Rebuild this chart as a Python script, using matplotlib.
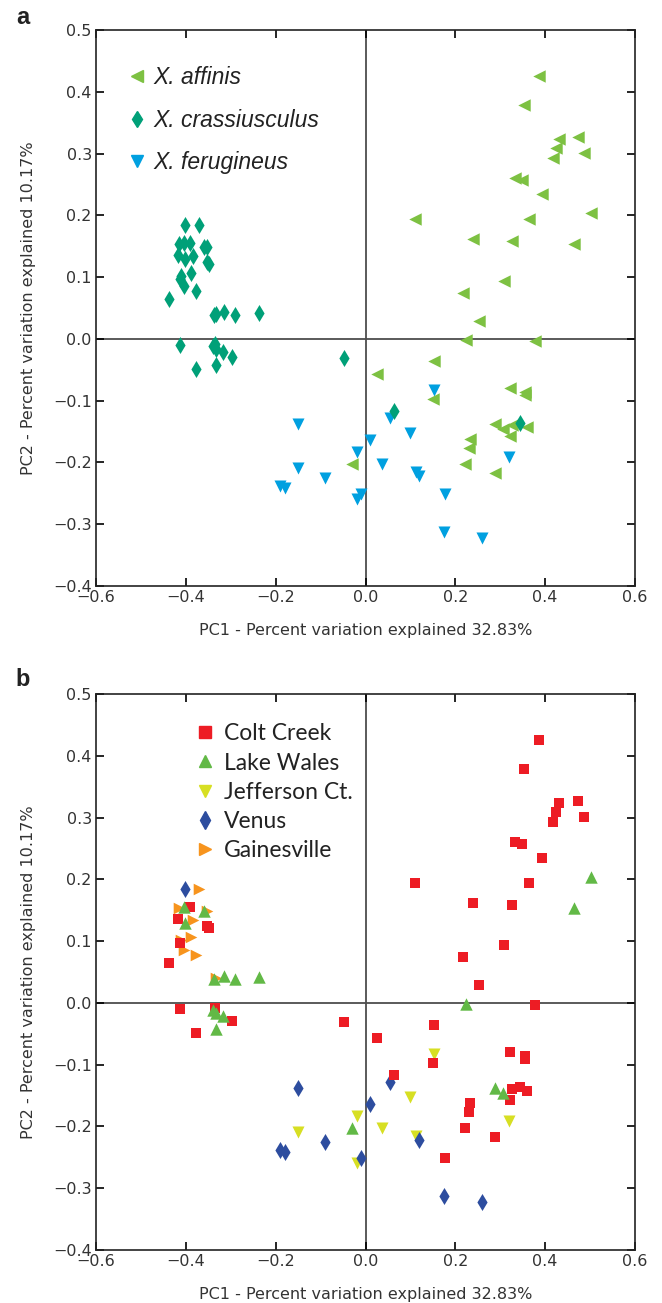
import matplotlib
matplotlib.use("Agg")
import matplotlib.pyplot as plt
from matplotlib.lines import Line2D
import numpy as np

# PCA scores, one entry per specimen (same points in both panels)
pc1 = [
    # X. crassiusculus, left cluster
    -0.370, -0.415, -0.352, -0.385, -0.411, -0.389, -0.405, -0.378, -0.333,
    -0.401,
    -0.390, -0.417, -0.352, -0.348, -0.413, -0.437, -0.413, -0.335, -0.298, -0.378,
    -0.047, 0.064, 0.344,
    -0.405, -0.359, -0.402, -0.338, -0.315, -0.290, -0.237, -0.340, -0.332, -0.317, -0.333,
    # X. affinis
    0.387, 0.353, 0.430, 0.473, 0.424, 0.418, 0.487, 0.332, 0.348, 0.393,
    0.110, 0.364, 0.240, 0.326, 0.308, 0.218, 0.253, 0.378, 0.026, 0.152,
    0.150, 0.321, 0.356, 0.354, 0.327, 0.359, 0.322, 0.233, 0.230, 0.221, 0.288,
    0.502, 0.465, 0.224, 0.289, 0.307, -0.030,
    # X. ferugineus
    0.178,
    -0.150, 0.055, 0.011, -0.090, -0.190, -0.179, -0.010, 0.120, 0.174, 0.259,
    0.153, 0.099, -0.018, -0.151, 0.037, 0.112, -0.020, 0.319,
]
pc2 = [
    0.185, 0.153, 0.149, 0.134, 0.102, 0.107, 0.085, 0.078, 0.040,
    0.185,
    0.155, 0.136, 0.124, 0.121, 0.097, 0.064, -0.010, -0.008, -0.030, -0.049,
    -0.031, -0.116, -0.136,
    0.156, 0.148, 0.130, 0.038, 0.044, 0.038, 0.042, -0.012, -0.016, -0.021, -0.043,
    0.426, 0.379, 0.324, 0.327, 0.309, 0.293, 0.301, 0.260, 0.257, 0.235,
    0.194, 0.194, 0.162, 0.158, 0.094, 0.074, 0.029, -0.003, -0.057, -0.036,
    -0.098, -0.080, -0.086, -0.091, -0.140, -0.142, -0.157, -0.162, -0.177, -0.202, -0.217,
    0.203, 0.153, -0.001, -0.137, -0.146, -0.202,
    -0.251,
    -0.138, -0.128, -0.164, -0.225, -0.238, -0.241, -0.251, -0.222, -0.312, -0.323,
    -0.082, -0.153, -0.183, -0.209, -0.203, -0.215, -0.259, -0.191,
]
species = ["cra"] * 34 + ["aff"] * 37 + ["fer"] * 19
site = (["GA"] * 9 + ["VE"] + ["CC"] * 13 + ["LW"] * 11
        + ["CC"] * 31 + ["LW"] * 6
        + ["CC"] + ["VE"] * 10 + ["JC"] * 8)

xticks = [-0.6, -0.4, -0.2, 0.0, 0.2, 0.4, 0.6]
yticks = [-0.4, -0.3, -0.2, -0.1, 0.0, 0.1, 0.2, 0.3, 0.4, 0.5]

species_order = ["fer", "aff", "cra"]
species_names = {"aff": "X. affinis", "cra": "X. crassiusculus", "fer": "X. ferugineus"}
species_style = {"aff": ("<", "#7dc142", 80),
                 "cra": ("d", "#00a078", 75),
                 "fer": ("v", "#00a0e0", 75)}

site_order = ["GA", "JC", "VE", "CC", "LW"]
site_names = {"CC": "Colt Creek", "LW": "Lake Wales", "JC": "Jefferson Ct.",
              "VE": "Venus", "GA": "Gainesville"}
site_style = {"CC": ("s", "#ed1c24", 60),
              "LW": ("^", "#62b946", 80),
              "JC": ("v", "#d7df23", 75),
              "VE": ("d", "#2d4d9f", 75),
              "GA": (">", "#f7941d", 70)}

pc1 = np.array(pc1)
pc2 = np.array(pc2)
species = np.array(species)
site = np.array(site)

xlab = "PC1 - Percent variation explained 32.83%"
ylab = "PC2 - Percent variation explained 10.17%"

fig = plt.figure(figsize=(6.62, 13.03), dpi=100)
W, H = 662, 1303
ax_a = fig.add_axes([96 / W, 1 - 586 / H, 539 / W, 556 / H])
ax_b = fig.add_axes([96 / W, 1 - 1250 / H, 539 / W, 556 / H])


def style_axes(ax):
    ax.set_xlim(-0.6, 0.6)
    ax.set_ylim(-0.4, 0.5)
    ax.set_xticks(xticks)
    ax.set_yticks(yticks)
    ax.set_xticklabels([f"{v:.1f}".replace("-", "\u2212") for v in xticks])
    ax.set_yticklabels([f"{v:.1f}".replace("-", "\u2212") for v in yticks])
    ax.axhline(0, color="#4d4d4d", lw=1.3, zorder=1)
    ax.axvline(0, color="#4d4d4d", lw=1.3, zorder=1)
    ax.tick_params(direction="in", length=6, width=1.2, top=True, right=True,
                   labelsize=11.5, labelcolor="#333333", pad=3)
    for s in ax.spines.values():
        s.set_linewidth(1.2)
        s.set_color("#222222")
    ax.set_xlabel(xlab, fontsize=11.5, color="#333333", labelpad=13)
    ax.set_ylabel(ylab, fontsize=11.5, color="#333333", labelpad=12)


# panel a: species
style_axes(ax_a)
for sp in species_order:
    m, c, s = species_style[sp]
    sel = species == sp
    ax_a.scatter(pc1[sel], pc2[sel], marker=m, color=c, s=s, linewidths=0, zorder=3)
handles_a = [Line2D([], [], marker=species_style[sp][0], color=species_style[sp][1],
                    linestyle="none", markersize=8) for sp in ["aff", "cra", "fer"]]
ax_a.legend(handles_a, [species_names[sp] for sp in ["aff", "cra", "fer"]],
            loc="upper left", bbox_to_anchor=(0.034, 0.955), frameon=False,
            prop={"family": "Liberation Sans", "style": "italic", "size": 16.5},
            handlelength=1.0, handletextpad=0.2, labelspacing=0.85, borderpad=0,
            labelcolor="#222222")

# panel b: collection site
style_axes(ax_b)
for st in site_order:
    m, c, s = site_style[st]
    sel = site == st
    ax_b.scatter(pc1[sel], pc2[sel], marker=m, color=c, s=s, linewidths=0, zorder=3)
leg_b = ["CC", "LW", "JC", "VE", "GA"]
handles_b = [Line2D([], [], marker=site_style[st][0], color=site_style[st][1],
                    linestyle="none", markersize=9) for st in leg_b]
ax_b.legend(handles_b, [site_names[st] for st in leg_b],
            loc="upper left", bbox_to_anchor=(0.159, 0.968), frameon=False,
            prop={"family": "Lato", "size": 16.5},
            handlelength=1.0, handletextpad=0.35, labelspacing=0.36, borderpad=0,
            labelcolor="#222222")

fig.text(23 / W, 1 - 17 / H, "a", fontsize=17, fontweight="bold",
         family="Liberation Sans", ha="center", va="center", color="#222222")
fig.text(23 / W, 1 - 680 / H, "b", fontsize=17, fontweight="bold",
         family="Liberation Sans", ha="center", va="center", color="#222222")

fig.savefig("out.png", dpi=100)
